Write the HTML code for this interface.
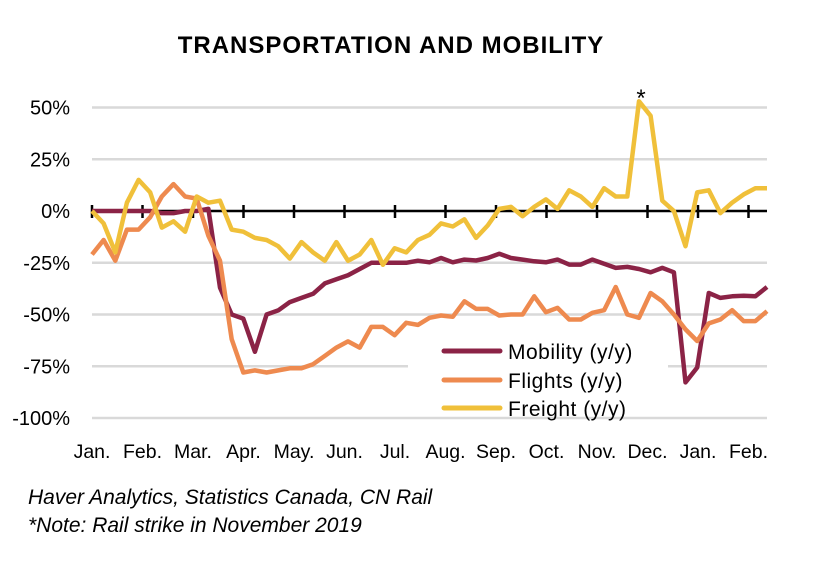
<!DOCTYPE html>
<html><head><meta charset="utf-8"><style>
body{margin:0;background:#fff;width:838px;height:573px;overflow:hidden;font-family:"Liberation Sans",sans-serif}
</style></head><body>
<svg id="chart" width="838" height="573" xmlns="http://www.w3.org/2000/svg" font-family="Liberation Sans, sans-serif">
<text x="391" y="53" text-anchor="middle" font-size="24" font-weight="bold" letter-spacing="1">TRANSPORTATION AND MOBILITY</text>
<g id="grid"></g><g id="ylabels"></g><g id="axis"></g><g id="series"></g>
<rect x="408" y="332" width="260" height="80" fill="#fff"/>
<g font-size="21" letter-spacing="0.5">
<line x1="444" y1="351" x2="500" y2="351" stroke="#8b2346" stroke-width="5" stroke-linecap="round"/>
<text x="508" y="359">Mobility (y/y)</text>
<line x1="444" y1="380" x2="500" y2="380" stroke="#ee8a4f" stroke-width="5" stroke-linecap="round"/>
<text x="508" y="388">Flights (y/y)</text>
<line x1="444" y1="408" x2="500" y2="408" stroke="#f0c03a" stroke-width="5" stroke-linecap="round"/>
<text x="508" y="416">Freight (y/y)</text>
</g>
<text x="641" y="106" text-anchor="middle" font-size="24">*</text>
<text x="28" y="504" font-size="21" font-style="italic">Haver Analytics, Statistics Canada, CN Rail</text>
<text x="28" y="532" font-size="21" font-style="italic">*Note: Rail strike in November 2019</text>
</svg>
<script>
const yTicks=[50,25,0,-25,-50,-75,-100];
const yTickLabels=["50%","25%","0%","-25%","-50%","-75%","-100%"];
const months=["Jan.","Feb.","Mar.","Apr.","May.","Jun.","Jul.","Aug.","Sep.","Oct.","Nov.","Dec.","Jan.","Feb."];
const mobility=[0,0,0,0,0,0,-1,-1,0,0,1,-37,-50,-52,-68,-50,-48,-44,-42,-40,-35,-33,-31,-28,-25,-25,-25,-25,-24,-24.8,-22.7,-24.8,-23.5,-23.9,-22.7,-20.7,-22.7,-23.5,-24.3,-24.8,-23.5,-25.9,-25.9,-23.5,-25.5,-27.5,-27,-28,-29.6,-27.5,-29.6,-82.8,-75.6,-39.6,-42,-41.2,-40.9,-41.2,-36.7];
const flights=[-21,-14,-24,-9,-9,-3,7,13,7,6,-12,-24,-62,-78,-77,-78,-77,-76,-76,-74,-70,-66,-63,-66,-56,-56,-60,-54,-55,-51.6,-50.5,-51.1,-43.6,-47.3,-47.3,-50.5,-50,-50,-41.2,-48.9,-46.8,-52.4,-52.4,-49.2,-47.9,-36.7,-50,-51.6,-39.6,-43.6,-50,-57.2,-62.8,-54.3,-52.4,-47.9,-53.2,-53.2,-48.4];
const freight=[0,-6,-20,4,15,9,-8,-5,-10,7,4,5,-9,-10,-13,-14,-17,-23,-15,-20,-24,-15,-24,-21,-14,-26,-18,-20,-14,-11.5,-6,-7.5,-4,-13,-7,1,2,-2.5,2,5.6,1,10,7,2,11,7,7,53,46,5,0,-17,9,10,-1,4,8,11,11];
const NS="http://www.w3.org/2000/svg";
const x0=92,x1=767,y0=211,pxPer=2.07;
function yS(v){return y0-v*pxPer;}
function xS(i,n){return x0+i*(x1-x0)/(n-1);}
function mX(m){return 92+m*50.5;}
function mk(t,a,p){const e=document.createElementNS(NS,t);for(const k in a)e.setAttribute(k,a[k]);p.appendChild(e);return e;}
const grid=document.getElementById('grid'),yl=document.getElementById('ylabels'),ax=document.getElementById('axis'),se=document.getElementById('series');
yTicks.forEach((v,i)=>{
  if(v!==0){const l=mk('line',{x1:x0,x2:x1,y1:yS(v),y2:yS(v),stroke:'#d9d9d9','stroke-width':2.5},grid);
  
  }
  const t=mk('text',{x:70,y:yS(v)+7,'text-anchor':'end','font-size':20},yl);t.textContent=yTickLabels[i];
  
  
});
const axl=mk('line',{x1:x0,x2:x1,y1:y0,y2:y0,stroke:'#000','stroke-width':2.5},ax);


months.forEach((m,i)=>{
  const tk=mk('line',{x1:mX(i),x2:mX(i),y1:y0-6,y2:y0+7,stroke:'#000','stroke-width':2.5},ax);
  
  
  const t=mk('text',{x:mX(i),y:458,'text-anchor':'middle','font-size':19.5},ax);t.textContent=m;
  
  
});
[[mobility,'#8b2346','mobility-line'],[flights,'#ee8a4f','flights-line'],[freight,'#f0c03a','freight-line']].forEach(([d,c,n])=>{
  const pts=d.map((v,i)=>xS(i,d.length).toFixed(1)+','+yS(v).toFixed(1)).join(' ');
  const p=mk('polyline',{points:pts,fill:'none',stroke:c,'stroke-width':4.5,'stroke-linejoin':'round'},se);
  
  
});
</script>
</body></html>
